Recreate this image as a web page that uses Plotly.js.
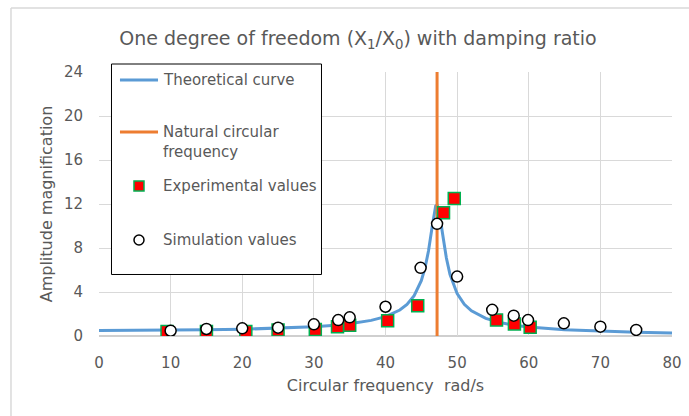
<!DOCTYPE html>
<html>
<head>
<meta charset="utf-8">
<script src="https://cdn.plot.ly/plotly-3.0.1.min.js"></script>
<style>html,body{margin:0;padding:0;background:#fff;}#chart{width:689px;height:416px;}</style>
</head>
<body>
<div id="chart"></div>
<script>
// Theoretical curve
const theoryX = [0,5,10,15,20,25,30,33,35,38,40,42,43,44,45,45.5,46,46.5,46.8,47,47.2,47.5,48,48.5,49,50,51,52,54,56,58,60,65,70,75,80];
const theoryY = [0.50,0.51,0.52,0.56,0.61,0.70,0.84,0.98,1.11,1.42,1.76,2.36,2.87,3.66,5.03,6.14,7.72,9.86,11.3,11.8,11.9,11.3,9.16,7.09,5.61,3.85,2.88,2.29,1.60,1.22,0.98,0.81,0.56,0.42,0.33,0.27];
// Natural circular frequency
const naturalFreq = 47.2;
const naturalY = [0, 24];
// Experimental values
const expX = [9.5,15,20.5,25,30.2,33.3,35,40.3,44.5,48.1,49.6,55.5,58,60.2];
const expY = [0.4,0.4,0.4,0.55,0.6,0.85,0.97,1.38,2.75,11.2,12.5,1.45,1.1,0.8];
// Simulation values
const simX = [10,15,20,25,30,33.4,35,40,44.9,47.2,50,54.9,57.9,59.9,64.9,70,75];
const simY = [0.48,0.64,0.7,0.76,1.06,1.45,1.7,2.66,6.2,10.2,5.4,2.38,1.85,1.45,1.15,0.85,0.55];
// Tick labels
const xTicks = [0,10,20,30,40,50,60,70,80];
const yTicks = [0,4,8,12,16,20,24];
// Legend labels
const legendNames = ['Theoretical curve', 'Natural circular<br>frequency', 'Experimental values', 'Simulation values'];

const FONT = 'DejaVu Sans, Verdana, sans-serif';
const GREY = '#595959';
const BLUE = '#5B9BD5', ORANGE = '#ED7D31';

const traces = [
  {x: theoryX, y: theoryY, mode: 'lines', name: legendNames[0],
   line: {color: BLUE, width: 3}},
  {x: [naturalFreq, naturalFreq], y: naturalY, mode: 'lines', name: legendNames[1],
   line: {color: ORANGE, width: 3}},
  {x: expX, y: expY, mode: 'markers', name: legendNames[2],
   marker: {symbol: 'square', size: 12, color: '#FF0000', line: {color: '#00B050', width: 1.5}}},
  {x: simX, y: simY, mode: 'markers', name: legendNames[3],
   marker: {symbol: 'circle', size: 11, color: '#FFFFFF', line: {color: '#000000', width: 1.5}}}
];

// Hand-built legend box (paper coordinates of the plot area)
const LX0 = 0.0218, LX1 = 0.3883, LY0 = 0.2330, LY1 = 1.0303;
const symX0 = 0.0366, symX1 = 0.1030, symXC = 0.0698, textX = 0.1082;
const rowY = [0.9697, 0.7330, 0.5682, 0.3636];
const orangeSymY = 0.7727;

const shapes = [
  // outer chart-area frame (left + top edges visible)
  {type: 'line', xref: 'paper', yref: 'paper', x0: -0.1536, x1: -0.1536, y0: -0.4, y1: 1.2424,
   line: {color: '#D9D9D9', width: 1.5}, layer: 'below'},
  {type: 'line', xref: 'paper', yref: 'paper', x0: -0.1536, x1: 1.1, y0: 1.2424, y1: 1.2424,
   line: {color: '#D9D9D9', width: 1.5}, layer: 'below'},
  // x-axis baseline
  {type: 'line', xref: 'paper', yref: 'paper', x0: 0, x1: 1, y0: 0, y1: 0,
   line: {color: '#BFBFBF', width: 1.5}, layer: 'below'},
  // legend box
  {type: 'rect', xref: 'paper', yref: 'paper', x0: LX0, x1: LX1, y0: LY0, y1: LY1,
   line: {color: '#000', width: 1}, fillcolor: '#fff', layer: 'above'},
  {type: 'line', xref: 'paper', yref: 'paper', x0: symX0, x1: symX1, y0: rowY[0], y1: rowY[0],
   line: {color: BLUE, width: 3}, layer: 'above'},
  {type: 'line', xref: 'paper', yref: 'paper', x0: symX0, x1: symX1, y0: orangeSymY, y1: orangeSymY,
   line: {color: ORANGE, width: 3}, layer: 'above'},
  {type: 'rect', xref: 'paper', yref: 'paper', xsizemode: 'pixel', ysizemode: 'pixel',
   xanchor: symXC, yanchor: rowY[2], x0: -5, x1: 5, y0: -5, y1: 5,
   line: {color: '#00B050', width: 1.5}, fillcolor: '#FF0000', layer: 'above'},
  {type: 'circle', xref: 'paper', yref: 'paper', xsizemode: 'pixel', ysizemode: 'pixel',
   xanchor: symXC, yanchor: rowY[3], x0: -5, x1: 5, y0: -5, y1: 5,
   line: {color: '#000', width: 1.5}, fillcolor: '#fff', layer: 'above'}
];

const annotations = legendNames.map((t, i) => ({
  text: t, xref: 'paper', yref: 'paper', x: textX, y: rowY[i],
  xanchor: 'left', yanchor: 'middle', align: 'left', showarrow: false,
  font: {family: FONT, size: 15, color: GREY}
}));

const layout = {
  width: 689, height: 416,
  margin: {l: 99, r: 17, t: 72, b: 80},
  paper_bgcolor: '#fff', plot_bgcolor: '#fff',
  font: {family: FONT, color: GREY, size: 15},
  showlegend: false,
  title: {text: 'One degree of freedom (X<sub>1</sub>/X<sub>0</sub>) with damping ratio',
    font: {family: FONT, size: 19, color: GREY},
    xref: 'paper', x: 0.452, xanchor: 'center', yref: 'container', y: 0.908, yanchor: 'middle'},
  xaxis: {range: [0, 80], tickvals: xTicks, ticktext: xTicks.map(String),
    showgrid: true, gridcolor: '#D9D9D9', gridwidth: 1, zeroline: false,
    showline: false, ticks: 'outside', ticklen: 13, tickcolor: 'rgba(0,0,0,0)',
    tickfont: {size: 15, color: GREY},
    title: {text: 'Circular frequency  rad/s', font: {size: 16, color: GREY}, standoff: 8}},
  yaxis: {range: [0, 24], tickvals: yTicks, ticktext: yTicks.map(String),
    showgrid: true, gridcolor: '#D9D9D9', gridwidth: 1, zeroline: false,
    showline: false, ticks: 'outside', ticklen: 12, tickcolor: 'rgba(0,0,0,0)',
    tickfont: {size: 15, color: GREY},
    title: {text: 'Amplitude magnification', font: {size: 16, color: GREY}, standoff: 7}},
  shapes: shapes,
  annotations: annotations
};

Plotly.newPlot('chart', traces, layout, {displayModeBar: false, staticPlot: true});
</script>
</body>
</html>
